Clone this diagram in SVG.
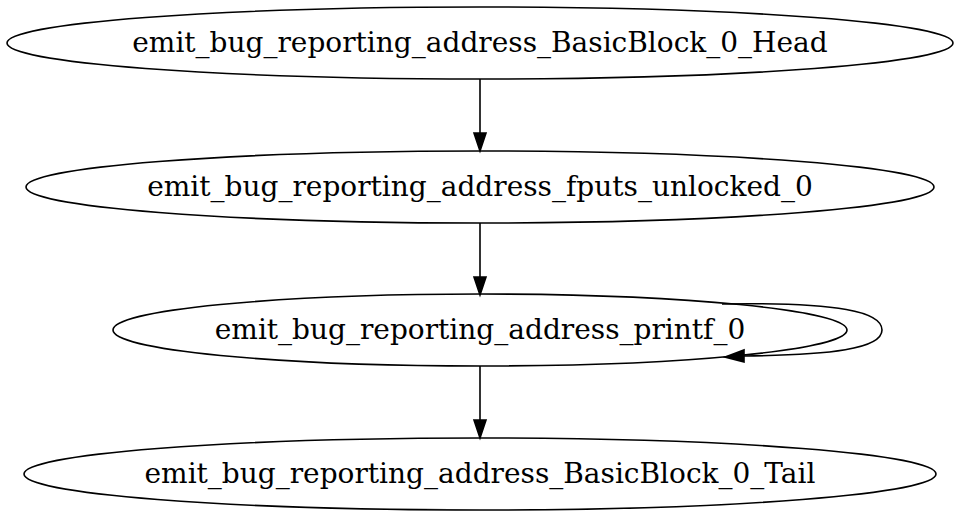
<svg xmlns="http://www.w3.org/2000/svg" width="960" height="519" viewBox="0 0 960 519">
<style>
.n ellipse{fill:none;stroke:#000;stroke-width:1.6}
.n text{font-family:"DejaVu Serif",serif;font-size:28px;fill:#000;text-anchor:middle}
.e path{fill:none;stroke:#000;stroke-width:1.6}
.e polygon{fill:#000;stroke:#000;stroke-width:1.6}
</style>
<rect width="960" height="519" fill="#fff"/>
<g id="node1" class="n"><ellipse cx="480" cy="43" rx="473" ry="36"/><text x="480" y="52">emit_bug_reporting_address_BasicBlock_0_Head</text></g>
<g id="node2" class="n"><ellipse cx="480" cy="187" rx="454" ry="36"/><text x="480" y="196">emit_bug_reporting_address_fputs_unlocked_0</text></g>
<g id="node3" class="n"><ellipse cx="480" cy="330" rx="367" ry="36"/><text x="480" y="339">emit_bug_reporting_address_printf_0</text></g>
<g id="node4" class="n"><ellipse cx="480" cy="474" rx="456" ry="36"/><text x="480" y="483">emit_bug_reporting_address_BasicBlock_0_Tail</text></g>
<g id="edges" class="e">
<path d="M722,304 C840,302 882,312 882,330 C882,349 830,355 744,356"/><polygon points="744,350 744,362 725,357"/>
<path d="M480,79 L480,133"/><polygon points="474,133 486,133 480,151"/>
<path d="M480,223 L480,277"/><polygon points="474,277 486,277 480,295"/>
<path d="M480,366 L480,420"/><polygon points="474,420 486,420 480,438"/>
</g>
</svg>
